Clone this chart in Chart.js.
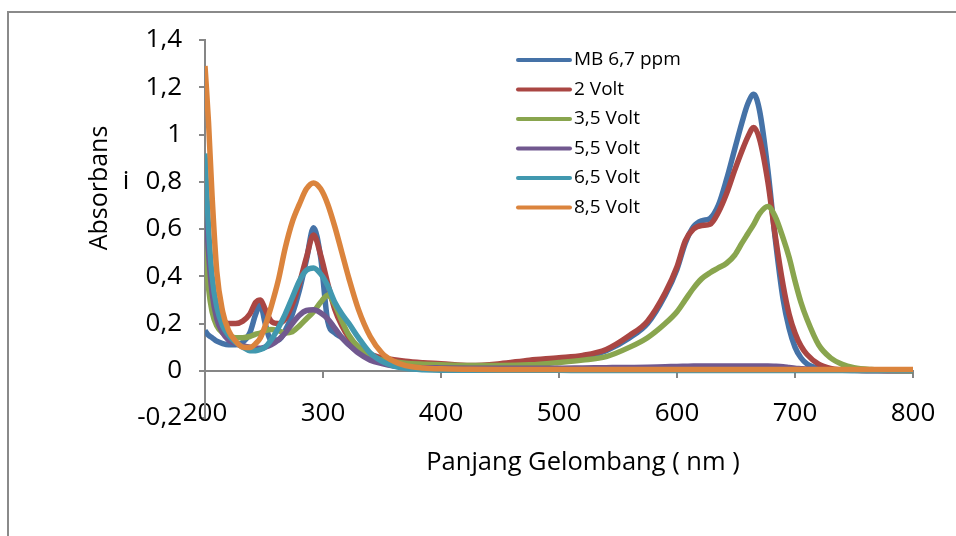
<!DOCTYPE html>
<html>
<head>
<meta charset="utf-8">
<title>Absorbans</title>
<script src="https://cdn.jsdelivr.net/npm/chart.js@4.4.1/dist/chart.umd.min.js"></script>
<style>
  html, body { margin: 0; padding: 0; background: #fff; }
  body { width: 956px; height: 536px; position: relative; overflow: hidden; }
  #frame { position: absolute; left: 7px; top: 11px; width: 1000px; height: 600px; border: 2px solid #8a8a8a; box-sizing: border-box; }
  #wrap { position: absolute; left: 0; top: 0; width: 956px; height: 536px; }
</style>
</head>
<body>
<div id="frame"></div>
<div id="wrap"><canvas id="chart" width="956" height="536"></canvas></div>
<script>
// wavelength (nm)
const wavelength = [200, 203, 206, 210, 215, 220, 226, 232, 238, 243,
  247, 251, 256, 262, 268, 274, 280, 286, 292, 298,
  304, 310, 316, 322, 330, 340, 350, 360, 370, 385,
  400, 425, 450, 475, 500, 520, 540, 560, 575, 590,
  600, 607, 614, 621, 628, 635, 642, 649, 655, 660,
  665, 670, 677, 683, 690, 695, 700, 705, 710, 720,
  730, 740, 750, 765, 780, 800];

const mb67 = [0.17, 0.15, 0.14, 0.125, 0.115, 0.11, 0.11, 0.12, 0.16, 0.24,
  0.28, 0.2, 0.13, 0.13, 0.17, 0.24, 0.34, 0.47, 0.605, 0.48,
  0.21, 0.16, 0.14, 0.11, 0.08, 0.055, 0.04, 0.03, 0.025, 0.02,
  0.017, 0.015, 0.02, 0.03, 0.045, 0.055, 0.085, 0.14, 0.2, 0.32,
  0.43, 0.54, 0.61, 0.635, 0.645, 0.7, 0.81, 0.94, 1.05, 1.13,
  1.17, 1.1, 0.85, 0.57, 0.3, 0.18, 0.1, 0.055, 0.03, 0.01,
  0.004, 0.002, 0.001, 0, 0, 0];

const volt2 = [0.55, 0.4, 0.3, 0.24, 0.21, 0.2, 0.2, 0.21, 0.24, 0.29,
  0.3, 0.26, 0.21, 0.2, 0.22, 0.28, 0.37, 0.48, 0.575, 0.49,
  0.37, 0.26, 0.19, 0.14, 0.1, 0.07, 0.055, 0.047, 0.04, 0.034,
  0.03, 0.022, 0.03, 0.045, 0.055, 0.065, 0.09, 0.15, 0.21, 0.33,
  0.44, 0.55, 0.6, 0.615, 0.62, 0.67, 0.75, 0.85, 0.93, 0.99,
  1.03, 0.98, 0.8, 0.58, 0.36, 0.24, 0.16, 0.105, 0.07, 0.028,
  0.01, 0.004, 0.002, 0.001, 0, 0];

const volt35 = [0.55, 0.35, 0.25, 0.19, 0.16, 0.15, 0.14, 0.14, 0.145, 0.155,
  0.16, 0.17, 0.175, 0.17, 0.16, 0.165, 0.19, 0.22, 0.25, 0.29,
  0.32, 0.28, 0.21, 0.15, 0.1, 0.065, 0.045, 0.037, 0.032, 0.028,
  0.025, 0.022, 0.022, 0.025, 0.035, 0.045, 0.06, 0.1, 0.14, 0.2,
  0.25, 0.3, 0.35, 0.39, 0.415, 0.435, 0.455, 0.49, 0.54, 0.58,
  0.62, 0.665, 0.695, 0.655, 0.56, 0.48, 0.38, 0.29, 0.22, 0.11,
  0.055, 0.027, 0.013, 0.005, 0.002, 0];

const volt55 = [0.75, 0.5, 0.33, 0.22, 0.16, 0.13, 0.115, 0.105, 0.1, 0.095,
  0.095, 0.1, 0.11, 0.13, 0.16, 0.2, 0.235, 0.255, 0.258, 0.245,
  0.22, 0.18, 0.14, 0.11, 0.075, 0.045, 0.03, 0.02, 0.016, 0.013,
  0.012, 0.011, 0.011, 0.011, 0.011, 0.012, 0.013, 0.014, 0.015, 0.017,
  0.018, 0.019, 0.02, 0.02, 0.02, 0.02, 0.02, 0.02, 0.02, 0.02,
  0.02, 0.02, 0.02, 0.019, 0.017, 0.014, 0.011, 0.009, 0.007, 0.005,
  0.004, 0.003, 0.003, 0.002, 0.002, 0.002];

const volt65 = [0.92, 0.6, 0.4, 0.27, 0.19, 0.15, 0.12, 0.1, 0.085, 0.085,
  0.09, 0.1, 0.13, 0.18, 0.24, 0.31, 0.38, 0.425, 0.435, 0.41,
  0.36, 0.29, 0.24, 0.2, 0.14, 0.075, 0.04, 0.02, 0.01, 0.004,
  0.002, 0.002, 0.002, 0.002, 0.002, 0.001, 0.001, 0.001, 0.001, 0.001,
  0.001, 0.001, 0.001, 0.001, 0.001, 0.001, 0.001, 0.001, 0.001, 0.001,
  0.001, 0.001, 0.001, 0.001, 0.001, 0.001, 0.001, 0.001, 0.001, 0.001,
  0.001, 0.001, 0.001, 0.001, 0.001, 0.001];

const volt85 = [1.29, 1.05, 0.74, 0.42, 0.25, 0.17, 0.125, 0.1, 0.098, 0.115,
  0.14, 0.19, 0.27, 0.38, 0.52, 0.63, 0.705, 0.77, 0.795, 0.77,
  0.705, 0.61, 0.5, 0.39, 0.26, 0.145, 0.075, 0.04, 0.022, 0.012,
  0.008, 0.006, 0.005, 0.005, 0.005, 0.005, 0.005, 0.005, 0.005, 0.005,
  0.005, 0.005, 0.005, 0.005, 0.005, 0.005, 0.005, 0.005, 0.005, 0.005,
  0.005, 0.005, 0.005, 0.005, 0.005, 0.005, 0.005, 0.005, 0.005, 0.005,
  0.005, 0.005, 0.005, 0.005, 0.005, 0.005];

const seriesNames = ['MB 6,7 ppm', '2 Volt', '3,5 Volt', '5,5 Volt', '6,5 Volt', '8,5 Volt'];
const seriesValues = [mb67, volt2, volt35, volt55, volt65, volt85];
const seriesColors = ['#4572A7', '#AA4643', '#89A54E', '#71588F', '#4198AF', '#DB843D'];

const xTitle = 'Panjang Gelombang ( nm )';
const yTitle = 'Absorbans';

const axisGray = '#868686';
const font = '"Open Sans", sans-serif';

const datasets = seriesValues.map((vals, i) => ({
  label: seriesNames[i],
  data: vals.map((v, j) => ({ x: wavelength[j], y: v })),
  borderColor: seriesColors[i],
  backgroundColor: seriesColors[i],
  borderWidth: 5.5,
  pointRadius: 0,
  fill: false,
  cubicInterpolationMode: 'monotone',
  order: seriesValues.length - i
}));

// axis titles, the stray "i" and the legend, drawn on top
const extraText = {
  id: 'extraText',
  afterDraw(chart) {
    const ctx = chart.ctx;
    ctx.save();
    ctx.fillStyle = '#000';
    ctx.textBaseline = 'middle';

    ctx.save();
    ctx.translate(100, 188);
    ctx.rotate(-Math.PI / 2);
    ctx.font = '25px "Open Sans"';
    ctx.textAlign = 'center';
    ctx.fillText(yTitle, 0, 0);
    ctx.restore();

    ctx.font = '25.5px "Open Sans"';
    ctx.textAlign = 'center';
    ctx.fillText(xTitle, 583, 463);

    ctx.font = '26px "Open Sans"';
    ctx.fillText('i', 126, 182);

    ctx.font = '19px "Open Sans"';
    ctx.textAlign = 'left';
    seriesNames.forEach((name, i) => {
      const y = 60 + i * 29.5;
      ctx.strokeStyle = seriesColors[i];
      ctx.lineWidth = 4;
      ctx.lineCap = 'round';
      ctx.beginPath();
      ctx.moveTo(518, y);
      ctx.lineTo(570, y);
      ctx.stroke();
      ctx.fillText(name, 574, y);
    });
    ctx.restore();
  }
};

new Chart(document.getElementById('chart'), {
  type: 'line',
  data: { datasets: datasets },
  options: {
    responsive: false,
    animation: false,
    layout: { padding: { top: 40, right: 43, left: 0, bottom: 0 } },
    plugins: { legend: { display: false }, tooltip: { enabled: false } },
    scales: {
      x: {
        type: 'linear',
        position: { y: 0 },
        min: 200,
        max: 800,
        ticks: { display: false, stepSize: 100 },
        grid: { drawOnChartArea: false, drawTicks: true, tickLength: 6, color: axisGray, lineWidth: 2 },
        border: { display: true, color: axisGray, width: 2 }
      },
      x2: {
        type: 'linear',
        position: 'bottom',
        min: 200,
        max: 800,
        ticks: {
          stepSize: 100,
          mirror: true,
          padding: -11,
          color: '#000',
          font: { family: font, size: 26 },
          maxRotation: 0
        },
        grid: { display: false },
        border: { display: false },
        afterFit(scale) { scale.height = 118; }
      },
      y: {
        type: 'linear',
        position: 'left',
        min: -0.2,
        max: 1.4,
        ticks: {
          stepSize: 0.2,
          padding: 17,
          color: '#000',
          font: { family: font, size: 26 },
          callback: v => String(Math.round(v * 10) / 10).replace('.', ',')
        },
        grid: { drawOnChartArea: false, drawTicks: true, tickLength: 6, color: axisGray, lineWidth: 2 },
        border: { display: true, color: axisGray, width: 2 },
        afterFit(scale) { scale.width = 205; }
      }
    }
  },
  plugins: [extraText]
});
</script>
</body>
</html>
